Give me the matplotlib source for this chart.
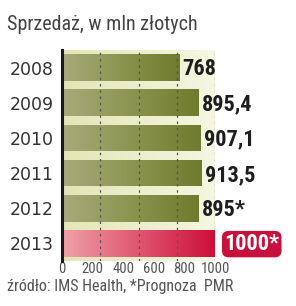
import matplotlib
matplotlib.use("Agg")
import matplotlib.pyplot as plt
import numpy as np
from matplotlib.colors import LinearSegmentedColormap
from matplotlib import font_manager

years = ["2008", "2009", "2010", "2011", "2012", "2013"]
values = [768, 895.4, 907.1, 913.5, 895, 1000]
value_labels = ["768", "895,4", "907,1", "913,5", "895*", "1000*"]
tick_values = [0, 200, 400, 600, 800, 1000]
grid_values = [250, 500, 750, 1000]
title = "Sprzedaż, w mln złotych"
source = "źródło: IMS Health, *Prognoza  PMR"

names = {f.name for f in font_manager.fontManager.ttflist}
def pick(cands):
    for c in cands:
        if c in names:
            return c
    return "DejaVu Sans"

narrow = pick(["Liberation Sans Narrow", "Roboto Condensed", "DejaVu Sans Condensed",
               "Open Sans Condensed", "Liberation Sans"])
plain = pick(["Liberation Sans", "Roboto", "DejaVu Sans"])

fig = plt.figure(figsize=(2.96, 3.06), dpi=100)
ax = fig.add_axes([62/296, 1-261/306, (215-62)/296, (261-50)/306])
n = len(years)

bg = LinearSegmentedColormap.from_list("bg", ["#e2e6b6", "#f6f7e2"])
grad = np.linspace(0, 1, 256).reshape(1, -1)
ax.imshow(grad, cmap=bg, aspect="auto", extent=[0, 1000, n - 0.5, -0.5], zorder=0)

green = LinearSegmentedColormap.from_list("g", ["#a7ab7c", "#8c954f", "#6f7b2e"])
red = LinearSegmentedColormap.from_list("r", ["#eea2aa", "#e05670", "#cc0f3c"])

h = 0.76
bars = ax.barh(range(n), values, height=h, color="none", zorder=2)
for i, b in enumerate(bars):
    cm = red if i == n - 1 else green
    im = ax.imshow(grad, cmap=cm, aspect="auto",
                   extent=[0, values[i], i + h/2, i - h/2], zorder=2)
    im.set_clip_path(b)

ax.set_xlim(0, 1000)
ax.set_ylim(n - 0.5, -0.5)

for g in grid_values:
    ax.axvline(g, color="#555555", lw=0.9, ls=(0, (2, 3)), zorder=3)

for s in ["top", "right", "bottom"]:
    ax.spines[s].set_visible(False)
ax.spines["left"].set_linewidth(2.2)
ax.spines["left"].set_color("#1a1a1a")
ax.spines["left"].set_zorder(5)

ax.set_yticks(range(n))
ax.set_yticklabels(years, fontsize=12.5, color="#333333", family="DejaVu Sans")
ax.tick_params(axis="y", length=0, pad=6)
ax.set_xticks(tick_values)
ax.set_xticklabels([str(t) for t in tick_values], fontsize=10.5, color="#555555", family=narrow)
ax.tick_params(axis="x", length=0, pad=1)

for i, (v, lab) in enumerate(zip(values, value_labels)):
    if i == n - 1:
        ax.text(v + 60, i + 0.02, lab, va="center", ha="left", fontsize=16,
                fontweight="bold", color="white", family=narrow, zorder=6,
                clip_on=False,
                bbox=dict(boxstyle="round,pad=0.1,rounding_size=0.3",
                          fc="#c8103c", ec="none"))
    else:
        ax.text(v + 18, i + 0.05, lab, va="center", ha="left", fontsize=16,
                fontweight="bold", color="#1e1e1e", family=narrow, zorder=6,
                clip_on=False)

fig.text(7/296, 1-24/306, title, fontsize=14.5, color="#444444", family=narrow,
         va="center", ha="left")
fig.text(7/296, 1-286/306, source, fontsize=11.5, color="#555555", family=narrow,
         va="center", ha="left")

fig.savefig("out.png", dpi=100, facecolor="white")
